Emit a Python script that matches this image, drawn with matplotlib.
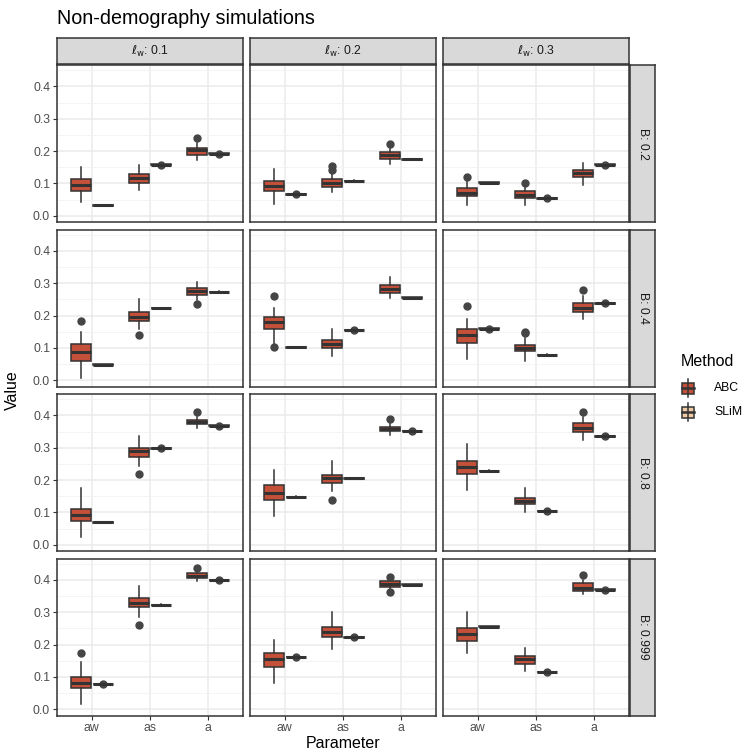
import numpy as np
import matplotlib
matplotlib.use("Agg")
import matplotlib.pyplot as plt
from matplotlib.patches import Rectangle

plt.rcParams['font.family'] = ['Liberation Sans', 'DejaVu Sans']
plt.rcParams['mathtext.fontset'] = 'dejavusans'

params = ["aw", "as", "a"]
lw_levels = ["0.1", "0.2", "0.3"]
b_levels = ["0.2", "0.4", "0.8", "0.999"]

# ABC box summaries, indexed [B row][l_w column][parameter]
abc_lo = [
    [[0.042, 0.081, 0.174], [0.038, 0.074, 0.159], [0.035, 0.032, 0.096]],
    [[0.008, 0.160, 0.248], [0.110, 0.075, 0.255], [0.065, 0.060, 0.190]],
    [[0.025, 0.245, 0.360], [0.090, 0.165, 0.340], [0.170, 0.100, 0.325]],
    [[0.015, 0.285, 0.395], [0.080, 0.185, 0.370], [0.175, 0.120, 0.355]],
]
abc_q1 = [
    [[0.076, 0.102, 0.189], [0.078, 0.089, 0.176], [0.060, 0.056, 0.119]],
    [[0.061, 0.183, 0.265], [0.160, 0.100, 0.270], [0.115, 0.090, 0.210]],
    [[0.075, 0.270, 0.372], [0.140, 0.190, 0.352], [0.220, 0.125, 0.350]],
    [[0.065, 0.315, 0.405], [0.130, 0.225, 0.378], [0.210, 0.140, 0.365]],
]
abc_med = [
    [[0.096, 0.116, 0.203], [0.093, 0.101, 0.189], [0.072, 0.065, 0.131]],
    [[0.089, 0.197, 0.275], [0.180, 0.112, 0.283], [0.140, 0.100, 0.225]],
    [[0.093, 0.290, 0.378], [0.160, 0.205, 0.358], [0.240, 0.135, 0.362]],
    [[0.082, 0.330, 0.412], [0.155, 0.240, 0.387], [0.232, 0.155, 0.375]],
]
abc_q3 = [
    [[0.113, 0.128, 0.211], [0.107, 0.113, 0.198], [0.085, 0.076, 0.143]],
    [[0.111, 0.212, 0.285], [0.195, 0.125, 0.295], [0.160, 0.110, 0.240]],
    [[0.110, 0.300, 0.385], [0.185, 0.215, 0.365], [0.260, 0.145, 0.375]],
    [[0.100, 0.345, 0.420], [0.175, 0.255, 0.395], [0.250, 0.165, 0.390]],
]
abc_hi = [
    [[0.151, 0.156, 0.225], [0.145, 0.131, 0.210], [0.109, 0.091, 0.163]],
    [[0.149, 0.252, 0.305], [0.225, 0.160, 0.318], [0.190, 0.130, 0.260]],
    [[0.175, 0.335, 0.395], [0.230, 0.260, 0.375], [0.310, 0.175, 0.395]],
    [[0.145, 0.380, 0.425], [0.215, 0.300, 0.410], [0.300, 0.190, 0.400]],
]
abc_out = [
    [[[], [], [0.240]], [[], [0.143, 0.155], [0.223]], [[0.119], [0.102], []]],
    [[[0.182], [0.139], [0.236]], [[0.260, 0.102], [], []], [[0.230], [0.145, 0.150], [0.278]]],
    [[[], [0.220], [0.410]], [[], [0.140], [0.388]], [[], [], [0.410]]],
    [[[0.175], [0.260], [0.437]], [[], [], [0.362, 0.410]], [[], [], [0.415]]],
]

# SLiM runs are nearly constant: centre value and whether an outlier shows
slim_val = [
    [[0.032, 0.158, 0.192], [0.066, 0.108, 0.175], [0.103, 0.054, 0.158]],
    [[0.048, 0.223, 0.273], [0.102, 0.155, 0.255], [0.160, 0.078, 0.238]],
    [[0.070, 0.298, 0.368], [0.148, 0.205, 0.352], [0.228, 0.105, 0.335]],
    [[0.078, 0.322, 0.400], [0.162, 0.222, 0.385], [0.255, 0.115, 0.370]],
]
slim_dot = [
    [[0, 1, 1], [1, 0, 0], [0, 1, 1]],
    [[0, 0, 0], [0, 1, 0], [1, 0, 1]],
    [[0, 1, 1], [0, 0, 1], [0, 1, 1]],
    [[1, 0, 1], [1, 1, 0], [0, 1, 1]],
]
slim_spread = 0.002

abc_col = "#C4503A"
slim_col = "#F0CBA8"
dark = "#333333"
W, H = 744, 753

fig = plt.figure(figsize=(W / 100, H / 100), dpi=100)

def px_axes(x0, y0, w, h):
    return fig.add_axes([x0 / W, 1 - (y0 + h) / H, w / W, h / H])

col_x = [57, 250, 443]
row_y = [65, 229.5, 394, 558.5]
pw, ph = 186, 157

def box_stats(lo, q1, med, q3, hi, fl):
    return dict(whislo=lo, q1=q1, med=med, q3=q3, whishi=hi, fliers=fl)

for r in range(4):
    for c in range(3):
        ax = px_axes(col_x[c], row_y[r], pw, ph)
        pos = np.arange(1, 4)
        abc = [box_stats(abc_lo[r][c][k], abc_q1[r][c][k], abc_med[r][c][k],
                         abc_q3[r][c][k], abc_hi[r][c][k], abc_out[r][c][k])
               for k in range(3)]
        slim = []
        for k in range(3):
            v = slim_val[r][c][k]
            slim.append(box_stats(v - slim_spread, v - slim_spread / 2, v,
                                  v + slim_spread / 2, v + slim_spread,
                                  [v] if slim_dot[r][c][k] else []))
        for stats, off, fc in [(abc, -0.19, abc_col), (slim, 0.19, slim_col)]:
            ax.bxp(stats, positions=pos + off, widths=0.35, patch_artist=True,
                   showcaps=False,
                   boxprops=dict(facecolor=fc, edgecolor=dark, linewidth=1.1),
                   medianprops=dict(color=dark, linewidth=2.2),
                   whiskerprops=dict(color=dark, linewidth=1.1),
                   flierprops=dict(marker='o', markerfacecolor='#454545',
                                   markeredgecolor='#454545', markersize=5, alpha=1),
                   manage_ticks=False, zorder=3)
        ax.set_xlim(0.4, 3.6)
        ax.set_ylim(-0.019, 0.466)
        ax.set_xticks(pos)
        ax.set_yticks([0, 0.1, 0.2, 0.3, 0.4])
        ax.set_yticks([0.05, 0.15, 0.25, 0.35, 0.45], minor=True)
        ax.grid(True, which='major', color='#EBEBEB', linewidth=1.1, zorder=0)
        ax.grid(True, which='minor', axis='y', color='#F2F2F2', linewidth=0.6, zorder=0)
        ax.set_axisbelow(True)
        ax.tick_params(which='minor', length=0)
        ax.tick_params(which='major', length=3, color=dark, width=0.8,
                       labelsize=8.8, labelcolor='#4D4D4D', pad=2)
        if c == 0:
            ax.set_yticklabels(["0.0", "0.1", "0.2", "0.3", "0.4"])
        else:
            ax.set_yticklabels([])
            ax.tick_params(axis='y', length=0)
        if r == 3:
            ax.set_xticklabels(params)
        else:
            ax.set_xticklabels([])
            ax.tick_params(axis='x', length=0)
        for s in ax.spines.values():
            s.set_color(dark)
            s.set_linewidth(1.1)

        # facet strips
        if r == 0:
            sa = px_axes(col_x[c], 38, pw, 26)
            sa.set_xticks([]); sa.set_yticks([])
            sa.set_facecolor('#D9D9D9')
            for s in sa.spines.values():
                s.set_color(dark); s.set_linewidth(1.1)
            sa.text(0.5, 0.5, r"$\ell_{\mathrm{w}}$" + ": " + lw_levels[c],
                    ha='center', va='center', fontsize=8.8, color='#1A1A1A')
        if c == 2:
            sa = px_axes(630, row_y[r], 25, ph)
            sa.set_xticks([]); sa.set_yticks([])
            sa.set_facecolor('#D9D9D9')
            for s in sa.spines.values():
                s.set_color(dark); s.set_linewidth(1.1)
            sa.text(0.5, 0.5, "B: " + b_levels[r], rotation=-90,
                    ha='center', va='center', fontsize=8.8, color='#1A1A1A')

fig.text(57 / W, 1 - 18 / H, "Non-demography simulations", fontsize=14.2,
         ha='left', va='center', color='black')
fig.text(343 / W, 1 - 744 / H, "Parameter", fontsize=11.5, ha='center', va='center')
fig.text(12 / W, 1 - 390 / H, "Value", fontsize=11.5, ha='center', va='center',
         rotation=90)

# legend
fig.text(681 / W, 1 - 361 / H, "Method", fontsize=11.5, ha='left', va='center')
lax = px_axes(678, 375, 24, 50)
lax.set_xlim(0, 24)
lax.set_ylim(50, 0)
lax.axis('off')
for yc, fc in [(13, abc_col), (37, slim_col)]:
    lax.plot([10, 10], [yc - 9, yc + 9], color=dark, lw=1.1)
    lax.add_patch(Rectangle((4, yc - 5.5), 12, 11, facecolor=fc, edgecolor=dark, lw=1.1))
    lax.plot([4, 16], [yc, yc], color=dark, lw=1.8)
fig.text(714 / W, 1 - 388 / H, "ABC", fontsize=8.8, ha='left', va='center')
fig.text(714 / W, 1 - 412 / H, "SLiM", fontsize=8.8, ha='left', va='center')

fig.savefig("out.png", dpi=100)
